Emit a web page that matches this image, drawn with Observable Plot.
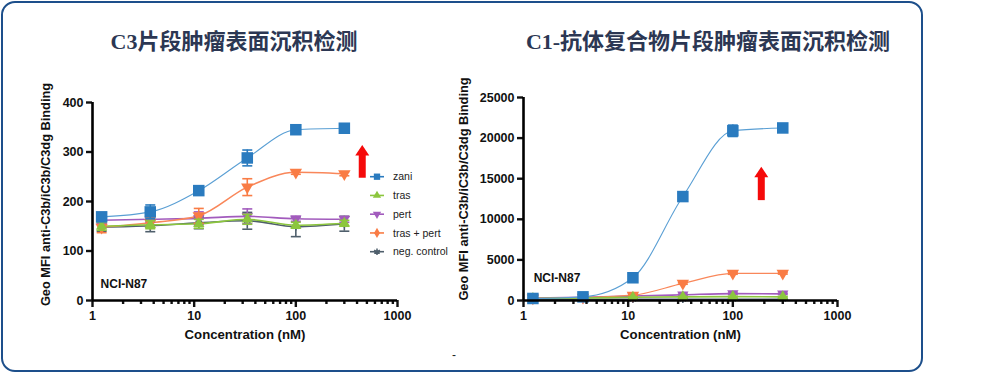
<!DOCTYPE html>
<html><head><meta charset="utf-8">
<script src="https://cdn.jsdelivr.net/npm/d3@7"></script>
<script src="https://cdn.jsdelivr.net/npm/@observablehq/plot@0.6"></script>
<style>
body{margin:0;background:#fff;}
#wrap{position:relative;width:996px;height:373px;overflow:hidden;font-family:"Liberation Sans",Arial,sans-serif;}
#frame{position:absolute;left:1px;top:1px;width:918px;height:367px;border:2px solid #1d4f8b;border-radius:14px;}
.title{position:absolute;top:26px;line-height:26px;font-size:22px;font-weight:bold;color:#2c3753;white-space:nowrap;font-family:"Noto Sans CJK SC",sans-serif;transform:translateX(-50%);}
.title .lat{font-family:"Liberation Serif","Times New Roman",serif;}
.plot{position:absolute;top:0;}
#legend{position:absolute;left:360px;top:165px;}
#dash{position:absolute;left:452px;top:348px;font-size:12px;color:#222;}
</style></head>
<body>
<div id="wrap">
  <div id="frame"></div>
  <div class="title" style="left:234px"><span class="lat">C3</span>片段肿瘤表面沉积检测</div>
  <div class="title" style="left:708px"><span class="lat">C1-</span>抗体复合物片段肿瘤表面沉积检测</div>
  <div id="left" class="plot" style="left:0px"></div>
  <div id="right" class="plot" style="left:460px"></div>
  <svg id="legend" width="100" height="100"></svg>
  <div id="dash">-</div>
</div>
<script>
// ---------- data ----------
const conc = [1.23, 3.7, 11.1, 33.3, 100, 300];
const seriesNames = ["zani", "tras", "pert", "tras + pert", "neg. control"];
const xTicksMajor = [1, 10, 100, 1000];
const xTicksMinor = [2,3,4,5,6,7,8,9,20,30,40,50,60,70,80,90,200,300,400,500,600,700,800,900];
const yTicksC3 = [0, 100, 200, 300, 400];
const yTicksC1 = [0, 5000, 10000, 15000, 20000, 25000];

// C3 chart (left)
const c3_zani = [169, 179, 222, 288, 345, 348];
const c3_zani_err = [6, 14, 5, 16, 5, 4];
const c3_tras = [150, 153, 155, 164, 152, 156];
const c3_tras_err = [8, 8, 9, 10, 6, 6];
const c3_pert = [162, 164, 166, 170, 165, 164];
const c3_pert_err = [6, 6, 13, 15, 5, 6];
const c3_traspert = [148, 157, 171, 229, 259, 256];
const c3_traspert_err = [11, 10, 15, 17, 4, 4];
const c3_neg = [148, 151, 157, 161, 149, 155];
const c3_neg_err = [8, 12, 12, 17, 20, 15];

// C1 chart (right)
const c1_zani = [250, 450, 2800, 12800, 20900, 21250];
const c1_zani_err = [80, 100, 150, 400, 700, 250];
const c1_tras = [250, 300, 400, 450, 480, 450];
const c1_tras_err = [40, 40, 60, 60, 60, 60];
const c1_pert = [300, 380, 550, 700, 850, 820];
const c1_pert_err = [40, 40, 60, 80, 80, 80];
const c1_traspert = [300, 380, 650, 2100, 3350, 3350];
const c1_traspert_err = [40, 40, 80, 100, 120, 100];
const c1_neg = [150, 150, 150, 150, 150, 150];
const c1_neg_err = [30, 30, 30, 30, 30, 30];

// annotations
const c3_arrow = {x: 450, y1: 247, y2: 296, tip: 314};
const c1_arrow = {x: 187, y1: 12300, y2: 15300, tip: 16480};
const c3_cellLabel = {x: 1.2, y: 34, text: "NCI-N87"};
const c1_cellLabel = {x: 1.25, y: 2700, text: "NCI-N87"};

// ---------- styles ----------
const colors = {"zani": "#2a7bbf", "tras": "#8cc63e", "pert": "#a25bbd", "tras + pert": "#f97c45", "neg. control": "#4f5f6c"};
const lineColors = {"zani": "#5a9fd4", "tras": "#8cc63e", "pert": "#a25bbd", "tras + pert": "#f9875a", "neg. control": "#4f5f6c"};

function rows(vals, errs, name) {
  return conc.map((x, i) => ({series: name, x, y: vals[i], err: errs[i]}));
}
const c3Data = [
  rows(c3_zani, c3_zani_err, "zani"),
  rows(c3_tras, c3_tras_err, "tras"),
  rows(c3_pert, c3_pert_err, "pert"),
  rows(c3_traspert, c3_traspert_err, "tras + pert"),
  rows(c3_neg, c3_neg_err, "neg. control")
].flat();
const c1Data = [
  rows(c1_zani, c1_zani_err, "zani"),
  rows(c1_tras, c1_tras_err, "tras"),
  rows(c1_pert, c1_pert_err, "pert"),
  rows(c1_traspert, c1_traspert_err, "tras + pert"),
  rows(c1_neg, c1_neg_err, "neg. control")
].flat();

const capSymbol = {draw(ctx, size) { const w = Math.sqrt(size / Math.PI); ctx.moveTo(-w, 0); ctx.lineTo(w, 0); }};
const headSymbol = {draw(ctx, size) { const w = Math.sqrt(size / Math.PI); ctx.moveTo(0, 0); ctx.lineTo(w, w * 1.5); ctx.lineTo(-w, w * 1.5); ctx.closePath(); }};

const drawOrder = ["neg. control", "pert", "tras + pert", "tras", "zani"];
const markerOpts = {
  "zani": {symbol: "square", r: 6.5, rotate: 0},
  "tras": {symbol: "triangle", r: 4.2, rotate: 0},
  "pert": {symbol: "triangle", r: 4.2, rotate: 180},
  "tras + pert": {symbol: "triangle", r: 4.6, rotate: 180},
  "neg. control": {symbol: "asterisk", r: 3.5, rotate: 0}
};

function makeChart(cfg) {
  const {data, yDomain, yTicks, width, mL, mR, mT, mB, labelDx, labelDy, arrow, cell, lineW} = cfg;
  const marks = [];
  for (const s of drawOrder) {
    const d = data.filter(r => r.series === s);
    marks.push(Plot.line(d, {x: "x", y: "y", stroke: lineColors[s], strokeWidth: lineW[s], curve: "monotone-x"}));
  }
  for (const s of drawOrder) {
    const d = data.filter(r => r.series === s);
    marks.push(Plot.ruleX(d, {x: "x", y1: r => r.y - r.err, y2: r => r.y + r.err, stroke: colors[s], strokeWidth: 1.6}));
    marks.push(Plot.dot(d, {x: "x", y: r => r.y + r.err, symbol: capSymbol, r: 5, stroke: colors[s], strokeWidth: 1.6}));
    marks.push(Plot.dot(d, {x: "x", y: r => r.y - r.err, symbol: capSymbol, r: 5, stroke: colors[s], strokeWidth: 1.6}));
    const m = markerOpts[s];
    if (m.symbol === "asterisk") {
      marks.push(Plot.dot(d, {x: "x", y: "y", symbol: "asterisk", r: m.r, stroke: colors[s], strokeWidth: 1.6}));
    } else {
      marks.push(Plot.dot(d, {x: "x", y: "y", symbol: m.symbol, r: m.r, rotate: m.rotate, fill: colors[s], stroke: "none"}));
    }
  }
  marks.push(Plot.ruleX([arrow], {x: "x", y1: "y1", y2: "y2", stroke: "#f50a0a", strokeWidth: 7}));
  marks.push(Plot.dot([arrow], {x: "x", y: "tip", symbol: headSymbol, r: 7, fill: "#f50a0a", stroke: "none"}));
  marks.push(Plot.text([cell], {x: "x", y: "y", text: "text", textAnchor: "start", fontSize: 12, fontWeight: "bold", fill: "#111"}));
  marks.push(Plot.axisX({ticks: xTicksMinor, tickSize: 4, strokeWidth: 2.4, tickFormat: () => "", label: null}));
  marks.push(Plot.axisX({ticks: xTicksMajor, tickSize: 7, tickPadding: 4, strokeWidth: 2.4, tickFormat: d => String(d), label: null, fontSize: 12.5, fontWeight: "bold"}));
  marks.push(Plot.axisY({ticks: yTicks, tickSize: 6, tickPadding: 3, strokeWidth: 2.4, tickFormat: d => String(d), label: null, fontSize: 12.5, fontWeight: "bold"}));
  marks.push(Plot.ruleY([yDomain[0]], {stroke: "#000", strokeWidth: 2.6}));
  marks.push(Plot.ruleX([1], {stroke: "#000", strokeWidth: 2.6}));
  marks.push(Plot.text(["Concentration (nM)"], {frameAnchor: "bottom", dy: 38, textAnchor: "middle", fontSize: 13.2, fontWeight: "bold", fill: "#111"}));
  marks.push(Plot.text(["Geo MFI anti-C3b/iC3b/C3dg Binding"], {frameAnchor: "left", textAnchor: "middle", dx: -labelDx, dy: labelDy, rotate: -90, fontSize: 12.8, fontWeight: "bold", fill: "#111"}));

  return Plot.plot({
    width, height: 373,
    marginLeft: mL, marginRight: mR, marginTop: mT, marginBottom: mB,
    x: {type: "log", domain: [1, 1000]},
    y: {domain: yDomain},
    style: {font: "12px 'Liberation Sans', Arial, sans-serif", color: "#111", background: "transparent", overflow: "visible"},
    marks
  });
}

document.getElementById("left").append(makeChart({
  data: c3Data, yDomain: [0, 400], yTicks: yTicksC3, width: 460,
  mL: 92, mR: 63, mT: 102, mB: 73, labelDx: 47, labelDy: -7,
  arrow: c3_arrow, cell: c3_cellLabel,
  lineW: {"zani": 1.1, "tras": 1.6, "pert": 1.6, "tras + pert": 1.6, "neg. control": 1.6}
}));
document.getElementById("right").append(makeChart({
  data: c1Data, yDomain: [0, 25000], yTicks: yTicksC1, width: 462,
  mL: 63, mR: 85, mT: 97, mB: 73, labelDx: 60, labelDy: -10,
  arrow: c1_arrow, cell: c1_cellLabel,
  lineW: {"zani": 1.1, "tras": 1.6, "pert": 1.6, "tras + pert": 1.2, "neg. control": 1.6}
}));

// legend
const lg = d3.select("#legend");
const legendSym = {
  "zani": d3.symbolSquare, "tras": d3.symbolTriangle, "pert": d3.symbolTriangle,
  "tras + pert": d3.symbolDiamond, "neg. control": d3.symbolAsterisk
};
seriesNames.forEach((s, i) => {
  const y = 11.7 + i * 18.75;
  const g = lg.append("g").attr("transform", `translate(0,${y})`);
  g.append("line").attr("x1", 10).attr("x2", 24).attr("y1", 0).attr("y2", 0).attr("stroke", colors[s]).attr("stroke-width", 1.6);
  const sym = g.append("path").attr("d", d3.symbol(legendSym[s], s === "zani" ? 40 : 30)())
    .attr("transform", `translate(17,0)${s === "pert" ? " rotate(180)" : ""}`);
  if (s === "neg. control") sym.attr("fill", "none").attr("stroke", colors[s]).attr("stroke-width", 1.5);
  else sym.attr("fill", colors[s]);
  g.append("text").attr("x", 33).attr("y", 0).attr("dy", "0.35em")
    .attr("font-size", 10.5).attr("font-family", "'Liberation Sans', Arial, sans-serif").attr("fill", "#222").text(s);
});
</script>
</body></html>
